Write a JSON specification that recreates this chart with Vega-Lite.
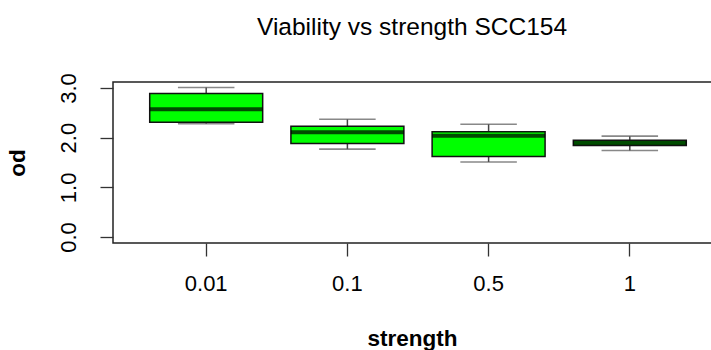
{
  "$schema": "https://vega.github.io/schema/vega-lite/v6.json",
  "width": 610,
  "height": 161,
  "autosize": {"type": "none"},
  "padding": {"left": 113, "top": 82, "right": -12, "bottom": 107},
  "background": "white",
  "config": {
    "font": "Liberation Sans",
    "view": {"stroke": "#222222", "strokeWidth": 1.5},
    "axis": {"grid": false, "domain": false, "tickColor": "#333333", "tickWidth": 1.3, "tickSize": 13, "labelColor": "black", "titleColor": "black", "labelFont": "Liberation Sans", "titleFont": "Liberation Sans"}
  },
  "title": {"text": "Viability vs strength SCC154", "fontSize": 24.5, "fontWeight": "normal", "font": "Liberation Sans", "color": "black", "offset": 32, "dx": -6},
  "data": {"values": [
    {"strength": "0.01", "lower": 2.28, "q1": 2.31, "median": 2.57, "q3": 2.89, "upper": 3.01},
    {"strength": "0.1", "lower": 1.77, "q1": 1.88, "median": 2.11, "q3": 2.23, "upper": 2.37},
    {"strength": "0.5", "lower": 1.51, "q1": 1.62, "median": 2.04, "q3": 2.12, "upper": 2.27},
    {"strength": "1", "lower": 1.74, "q1": 1.84, "median": 1.89, "q3": 1.95, "upper": 2.03}
  ]},
  "encoding": {
    "x": {"field": "strength", "type": "nominal", "sort": null,
      "scale": {"paddingInner": 0.2, "paddingOuter": 0.26},
      "axis": {"labelAngle": 0, "labelFontSize": 22, "labelPadding": 17, "title": "strength", "titleFontSize": 22.5, "titleFontWeight": "bold", "titlePadding": 33, "titleX": 299}}
  },
  "layer": [
    {
      "mark": {"type": "rule", "color": "#444444", "strokeWidth": 1.5},
      "encoding": {
        "y": {"field": "lower", "type": "quantitative",
          "scale": {"domain": [-0.12, 3.12], "nice": false, "zero": false},
          "axis": {"values": [0, 0.5, 1, 1.5, 2, 2.5, 3], "labelExpr": "datum.value % 1 == 0 ? format(datum.value, '.1f') : ''", "labelAngle": 270, "labelFontSize": 22, "labelPadding": 20, "title": "od", "titleFontSize": 22.5, "titleFontWeight": "bold", "titlePadding": 28}},
        "y2": {"field": "upper"}
      }
    },
    {
      "mark": {"type": "tick", "color": "#555555", "thickness": 1.6, "size": 56.5},
      "encoding": {"y": {"field": "lower", "type": "quantitative"}}
    },
    {
      "mark": {"type": "tick", "color": "#555555", "thickness": 1.6, "size": 56.5},
      "encoding": {"y": {"field": "upper", "type": "quantitative"}}
    },
    {
      "mark": {"type": "bar", "fill": "#00ff00", "stroke": "#111111", "strokeWidth": 1.5},
      "encoding": {"y": {"field": "q1", "type": "quantitative"}, "y2": {"field": "q3"}}
    },
    {
      "mark": {"type": "tick", "color": "black", "thickness": 4, "size": 113},
      "encoding": {"y": {"field": "median", "type": "quantitative"}}
    }
  ]
}
